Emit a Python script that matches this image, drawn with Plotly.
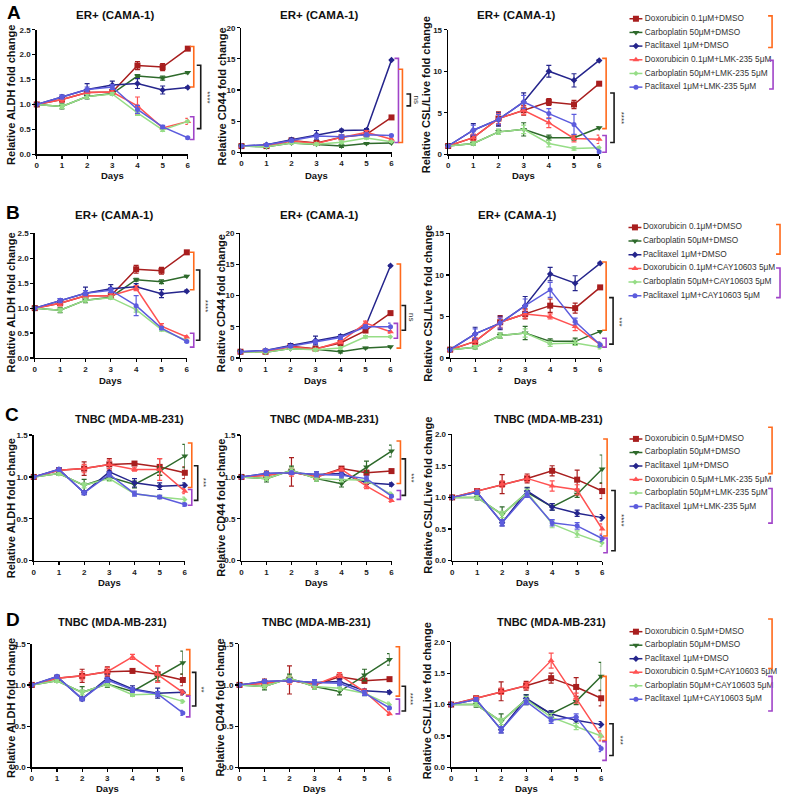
import plotly.graph_objects as go

W, H = 786, 800
days = [0, 1, 2, 3, 4, 5, 6]

# order: Dox+DMSO, Carbo+DMSO, Pacli+DMSO, Dox+inhib, Carbo+inhib, Pacli+inhib
colors = ["#A81E1E", "#2E6A2B", "#25258C", "#FF5252", "#96DD86", "#5C5CDD"]
symbols = ["square", "triangle-down", "diamond", "triangle-up", "diamond", "circle"]
msizes = [6, 6, 5, 6, 4, 5]

# ---------------- Row A : ER+ (CAMA-1), LMK-235 ----------------
A_aldh = [
    [1.0, 1.10, 1.24, 1.25, 1.78, 1.75, 2.12],
    [1.0, 0.96, 1.16, 1.22, 1.57, 1.53, 1.64],
    [1.0, 1.15, 1.30, 1.39, 1.42, 1.29, 1.34],
    [1.0, 1.10, 1.24, 1.25, 0.97, 0.53, 0.66],
    [1.0, 0.96, 1.16, 1.21, 0.83, 0.49, 0.66],
    [1.0, 1.15, 1.30, 1.35, 0.90, 0.55, 0.33],
]
A_aldh_err = [
    [0, 0.05, 0.04, 0.04, 0.08, 0.07, 0.02],
    [0, 0.05, 0.05, 0.03, 0.03, 0.04, 0.02],
    [0, 0.04, 0.12, 0.08, 0.10, 0.08, 0.02],
    [0, 0.05, 0.04, 0.04, 0.18, 0.03, 0.06],
    [0, 0.04, 0.04, 0.03, 0.05, 0.03, 0.02],
    [0, 0.04, 0.05, 0.05, 0.08, 0.03, 0.02],
]
A_cd44 = [
    [1.0, 1.0, 1.9, 1.5, 2.4, 2.9, 5.6],
    [1.0, 0.9, 1.5, 1.3, 1.0, 1.4, 1.5],
    [1.0, 1.2, 2.0, 2.8, 3.5, 3.6, 14.8],
    [1.0, 1.0, 1.8, 1.4, 2.4, 3.2, 2.1],
    [1.0, 0.9, 1.5, 1.3, 1.6, 2.3, 1.7],
    [1.0, 1.2, 1.9, 2.6, 2.5, 2.8, 2.7],
]
A_cd44_err = [
    [0, 0.1, 0.2, 0.2, 0.3, 0.3, 0.1],
    [0, 0.1, 0.1, 0.2, 0.2, 0.1, 0.1],
    [0, 0.2, 0.3, 0.7, 0.2, 0.2, 0.1],
    [0, 0.1, 0.2, 0.2, 0.3, 0.3, 0.2],
    [0, 0.1, 0.1, 0.2, 0.2, 0.2, 0.1],
    [0, 0.2, 0.2, 0.3, 0.3, 0.3, 0.2],
]
A_csl = [
    [1.0, 2.0, 4.3, 5.3, 6.3, 6.0, 8.5],
    [1.0, 1.3, 2.7, 3.0, 2.0, 2.0, 3.2],
    [1.0, 2.9, 4.2, 6.3, 10.0, 8.9, 11.3],
    [1.0, 2.0, 4.3, 5.3, 3.8, 1.9, 1.8],
    [1.0, 1.3, 2.7, 3.0, 1.3, 0.7, 0.8],
    [1.0, 2.9, 4.2, 6.3, 4.9, 3.6, 0.3],
]
A_csl_err = [
    [0, 0.4, 0.8, 0.6, 0.4, 0.5, 0.1],
    [0, 0.2, 0.3, 0.8, 0.3, 0.3, 0.1],
    [0, 0.8, 0.8, 1.1, 0.7, 0.8, 0.1],
    [0, 0.4, 0.6, 0.5, 0.6, 0.4, 0.5],
    [0, 0.2, 0.3, 0.5, 0.4, 0.2, 0.1],
    [0, 0.6, 0.6, 0.8, 0.6, 1.2, 0.3],
]

# ---------------- Row B : ER+ (CAMA-1), CAY10603 ----------------
B_aldh = [
    [1.0, 1.10, 1.25, 1.25, 1.78, 1.75, 2.12],
    [1.0, 0.96, 1.16, 1.22, 1.57, 1.53, 1.64],
    [1.0, 1.15, 1.30, 1.39, 1.43, 1.29, 1.34],
    [1.0, 1.10, 1.25, 1.25, 1.40, 0.64, 0.42],
    [1.0, 0.96, 1.16, 1.21, 0.97, 0.57, 0.35],
    [1.0, 1.15, 1.30, 1.36, 1.05, 0.60, 0.33],
]
B_aldh_err = [
    [0, 0.05, 0.04, 0.04, 0.08, 0.07, 0.02],
    [0, 0.05, 0.05, 0.03, 0.03, 0.04, 0.02],
    [0, 0.04, 0.12, 0.08, 0.06, 0.08, 0.02],
    [0, 0.05, 0.04, 0.04, 0.05, 0.05, 0.03],
    [0, 0.04, 0.04, 0.03, 0.05, 0.03, 0.02],
    [0, 0.04, 0.05, 0.05, 0.20, 0.03, 0.02],
]
B_cd44 = [
    [1.0, 1.0, 1.9, 1.5, 2.4, 4.4, 7.2],
    [1.0, 0.9, 1.5, 1.4, 1.0, 1.6, 1.8],
    [1.0, 1.2, 2.0, 2.8, 3.5, 5.1, 14.8],
    [1.0, 1.0, 1.8, 1.4, 2.6, 5.6, 4.2],
    [1.0, 0.9, 1.5, 1.3, 1.6, 3.4, 3.4],
    [1.0, 1.2, 1.9, 2.6, 3.3, 5.0, 5.0],
]
B_cd44_err = [
    [0, 0.1, 0.2, 0.2, 0.3, 0.3, 0.1],
    [0, 0.1, 0.1, 0.2, 0.2, 0.1, 0.1],
    [0, 0.2, 0.3, 0.7, 0.2, 0.2, 0.1],
    [0, 0.1, 0.2, 0.2, 0.3, 0.3, 0.2],
    [0, 0.1, 0.1, 0.2, 0.2, 0.2, 0.1],
    [0, 0.2, 0.2, 0.3, 0.3, 0.3, 0.6],
]
B_csl = [
    [1.0, 2.0, 4.3, 5.3, 6.3, 6.0, 8.5],
    [1.0, 1.3, 2.7, 3.0, 2.0, 2.0, 3.2],
    [1.0, 2.9, 4.2, 6.3, 10.1, 9.0, 11.4],
    [1.0, 2.0, 4.3, 5.3, 5.0, 3.8, 1.6],
    [1.0, 1.3, 2.7, 3.0, 1.7, 1.8, 1.3],
    [1.0, 2.9, 4.2, 6.3, 8.2, 4.4, 1.6],
]
B_csl_err = [
    [0, 0.4, 0.8, 0.6, 0.8, 0.6, 0.1],
    [0, 0.2, 0.3, 0.8, 0.3, 0.4, 0.1],
    [0, 0.8, 0.8, 1.1, 0.8, 0.9, 0.1],
    [0, 0.4, 0.6, 0.5, 0.3, 0.5, 0.3],
    [0, 0.2, 0.3, 0.5, 0.3, 0.3, 0.2],
    [0, 0.6, 0.6, 0.8, 0.9, 0.4, 0.3],
]

# ---------------- Row C : TNBC (MDA-MB-231), LMK-235 ----------------
C_aldh = [
    [1.0, 1.08, 1.10, 1.15, 1.16, 1.12, 1.05],
    [1.0, 1.04, 0.90, 1.00, 0.91, 1.07, 1.25],
    [1.0, 1.09, 0.81, 1.06, 0.93, 0.89, 0.90],
    [1.0, 1.08, 1.10, 1.15, 1.09, 1.09, 0.83],
    [1.0, 1.04, 0.90, 0.98, 0.80, 0.76, 0.73],
    [1.0, 1.09, 0.81, 1.03, 0.80, 0.76, 0.67],
]
C_aldh_err = [
    [0, 0.02, 0.08, 0.07, 0.02, 0.10, 0.07],
    [0, 0.02, 0.07, 0.04, 0.04, 0.05, 0.14],
    [0, 0.02, 0.02, 0.04, 0.05, 0.04, 0.03],
    [0, 0.02, 0.05, 0.05, 0.02, 0.13, 0.03],
    [0, 0.02, 0.03, 0.03, 0.02, 0.02, 0.03],
    [0, 0.02, 0.02, 0.03, 0.03, 0.02, 0.02],
]
C_cd44 = [
    [1.0, 1.02, 1.06, 1.00, 1.10, 1.05, 1.07],
    [1.0, 0.98, 1.08, 0.98, 0.92, 1.12, 1.31],
    [1.0, 1.04, 1.05, 1.03, 1.04, 0.93, 0.91],
    [1.0, 1.02, 1.06, 1.00, 1.09, 0.89, 0.72],
    [1.0, 0.98, 1.08, 0.98, 0.97, 0.96, 0.79],
    [1.0, 1.04, 1.05, 1.03, 1.02, 0.98, 0.77],
]
C_cd44_err = [
    [0, 0.05, 0.17, 0.03, 0.02, 0.03, 0.02],
    [0, 0.04, 0.05, 0.03, 0.04, 0.07, 0.07],
    [0, 0.02, 0.02, 0.03, 0.03, 0.02, 0.02],
    [0, 0.02, 0.05, 0.03, 0.02, 0.03, 0.02],
    [0, 0.02, 0.03, 0.03, 0.03, 0.03, 0.03],
    [0, 0.02, 0.02, 0.03, 0.03, 0.03, 0.02],
]
C_csl = [
    [1.0, 1.10, 1.21, 1.30, 1.42, 1.28, 1.10],
    [1.0, 1.00, 0.73, 1.08, 0.85, 1.05, 1.45],
    [1.0, 1.08, 0.60, 1.10, 0.85, 0.75, 0.68],
    [1.0, 1.10, 1.21, 1.30, 1.18, 1.12, 0.50],
    [1.0, 1.00, 0.73, 1.08, 0.58, 0.42, 0.28],
    [1.0, 1.08, 0.60, 1.05, 0.60, 0.55, 0.35],
]
C_csl_err = [
    [0, 0.03, 0.15, 0.07, 0.08, 0.15, 0.12],
    [0, 0.04, 0.12, 0.08, 0.05, 0.05, 0.22],
    [0, 0.03, 0.05, 0.05, 0.05, 0.05, 0.05],
    [0, 0.03, 0.05, 0.05, 0.08, 0.08, 0.08],
    [0, 0.03, 0.05, 0.05, 0.06, 0.05, 0.05],
    [0, 0.03, 0.05, 0.05, 0.05, 0.05, 0.05],
]

# ---------------- Row D : TNBC (MDA-MB-231), CAY10603 ----------------
D_aldh = [
    [1.0, 1.08, 1.11, 1.16, 1.17, 1.13, 1.06],
    [1.0, 1.05, 0.91, 1.01, 0.92, 1.10, 1.27],
    [1.0, 1.10, 0.83, 1.08, 0.95, 0.90, 0.91],
    [1.0, 1.08, 1.11, 1.16, 1.34, 1.13, 0.91],
    [1.0, 1.05, 0.91, 1.01, 0.88, 0.89, 0.80],
    [1.0, 1.10, 0.83, 1.06, 0.94, 0.89, 0.66],
]
D_aldh_err = [
    [0, 0.02, 0.08, 0.06, 0.02, 0.10, 0.07],
    [0, 0.02, 0.07, 0.04, 0.04, 0.05, 0.14],
    [0, 0.02, 0.02, 0.04, 0.04, 0.06, 0.03],
    [0, 0.02, 0.05, 0.05, 0.03, 0.10, 0.03],
    [0, 0.02, 0.03, 0.03, 0.02, 0.02, 0.02],
    [0, 0.02, 0.02, 0.03, 0.03, 0.03, 0.03],
]
D_cd44 = [
    [1.0, 1.02, 1.06, 1.00, 1.10, 1.05, 1.07],
    [1.0, 0.98, 1.08, 0.98, 0.92, 1.12, 1.31],
    [1.0, 1.04, 1.05, 1.03, 1.04, 0.93, 0.91],
    [1.0, 1.02, 1.06, 1.00, 1.12, 0.92, 0.65],
    [1.0, 0.98, 1.08, 0.98, 0.96, 0.90, 0.76],
    [1.0, 1.04, 1.05, 1.03, 1.02, 0.90, 0.72],
]
D_cd44_err = [
    [0, 0.05, 0.17, 0.03, 0.02, 0.03, 0.02],
    [0, 0.04, 0.05, 0.03, 0.04, 0.07, 0.07],
    [0, 0.02, 0.02, 0.03, 0.03, 0.02, 0.02],
    [0, 0.02, 0.05, 0.03, 0.03, 0.03, 0.02],
    [0, 0.02, 0.03, 0.03, 0.03, 0.03, 0.03],
    [0, 0.02, 0.02, 0.03, 0.03, 0.03, 0.02],
]
D_csl = [
    [1.0, 1.10, 1.21, 1.30, 1.42, 1.28, 1.10],
    [1.0, 1.00, 0.73, 1.08, 0.85, 1.05, 1.45],
    [1.0, 1.08, 0.60, 1.10, 0.85, 0.75, 0.68],
    [1.0, 1.10, 1.21, 1.30, 1.70, 1.10, 0.50],
    [1.0, 1.00, 0.73, 1.08, 0.80, 0.65, 0.50],
    [1.0, 1.08, 0.60, 1.05, 0.75, 0.80, 0.30],
]
D_csl_err = [
    [0, 0.03, 0.15, 0.07, 0.08, 0.15, 0.12],
    [0, 0.04, 0.12, 0.08, 0.05, 0.05, 0.22],
    [0, 0.03, 0.05, 0.05, 0.05, 0.05, 0.05],
    [0, 0.03, 0.05, 0.05, 0.12, 0.08, 0.08],
    [0, 0.03, 0.05, 0.05, 0.06, 0.05, 0.05],
    [0, 0.03, 0.05, 0.05, 0.05, 0.05, 0.05],
]

legend_A = ["Doxorubicin 0.1μM+DMSO", "Carboplatin 50μM+DMSO", "Paclitaxel 1μM+DMSO",
            "Doxorubicin 0.1μM+LMK-235 5μM", "Carboplatin 50μM+LMK-235 5μM", "Paclitaxel 1μM+LMK-235 5μM"]
legend_B = ["Doxorubicin 0.1μM+DMSO", "Carboplatin 50μM+DMSO", "Paclitaxel 1μM+DMSO",
            "Doxorubicin 0.1μM+CAY10603 5μM", "Carboplatin 50μM+CAY10603 5μM", "Paclitaxel 1μM+CAY10603 5μM"]
legend_C = ["Doxorubicin 0.5μM+DMSO", "Carboplatin 50μM+DMSO", "Paclitaxel 1μM+DMSO",
            "Doxorubicin 0.5μM+LMK-235 5μM", "Carboplatin 50μM+LMK-235 5μM", "Paclitaxel 1μM+LMK-235 5μM"]
legend_D = ["Doxorubicin 0.5μM+DMSO", "Carboplatin 50μM+DMSO", "Paclitaxel 1μM+DMSO",
            "Doxorubicin 0.5μM+CAY10603 5μM", "Carboplatin 50μM+CAY10603 5μM", "Paclitaxel 1μM+CAY10603 5μM"]

ER = "ER+ (CAMA-1)"
TN = "TNBC (MDA-MB-231)"
Y_ALDH = "Relative ALDH fold change"
Y_CD44 = "Relative CD44 fold change"
Y_CSL = "Relative CSL/Live fold change"

FONT = "Liberation Sans"
ORANGE = "#FF6A1C"
PURPLE = "#A044C8"
BLACK = "#1A1A1A"

# panel geometry in pixels: x of day0, x of day6, y of top, y of 0
panels = [
    dict(v=A_aldh, e=A_aldh_err, box=(35, 187, 26, 152), ymax=2.5, dt=0.5, fmt=".1f", t=ER, tx=114, ty=11, yl=Y_ALDH, ylx=9, yly=92, dy=173),
    dict(v=A_cd44, e=A_cd44_err, box=(241, 392, 24, 150), ymax=20, dt=5, fmt="d", t=ER, tx=319, ty=11, yl=Y_CD44, ylx=221, yly=94, dy=173),
    dict(v=A_csl, e=A_csl_err, box=(449, 601, 26, 152), ymax=15, dt=5, fmt="d", t=ER, tx=517, ty=11, yl=Y_CSL, ylx=427, yly=92, dy=173),
    dict(v=B_aldh, e=B_aldh_err, box=(33, 186, 232, 358), ymax=2.5, dt=0.5, fmt=".1f", t=ER, tx=113, ty=213, yl=Y_ALDH, ylx=9, yly=302, dy=381),
    dict(v=B_cd44, e=B_cd44_err, box=(240, 391, 232, 358), ymax=20, dt=5, fmt="d", t=ER, tx=319, ty=213, yl=Y_CD44, ylx=220, yly=303, dy=381),
    dict(v=B_csl, e=B_csl_err, box=(451, 602, 232, 358), ymax=15, dt=5, fmt="d", t=ER, tx=518, ty=213, yl=Y_CSL, ylx=428, yly=303, dy=381),
    dict(v=C_aldh, e=C_aldh_err, box=(32, 184, 436, 563), ymax=1.5, dt=0.5, fmt=".1f", t=TN, tx=128, ty=420, yl=Y_ALDH, ylx=9, yly=510, dy=585),
    dict(v=C_cd44, e=C_cd44_err, box=(241, 392, 436, 563), ymax=1.5, dt=0.5, fmt=".1f", t=TN, tx=325, ty=420, yl=Y_CD44, ylx=221, yly=510, dy=585),
    dict(v=C_csl, e=C_csl_err, box=(453, 604, 435, 563), ymax=2.0, dt=0.5, fmt=".1f", t=TN, tx=550, ty=420, yl=Y_CSL, ylx=429, yly=497, dy=585),
    dict(v=D_aldh, e=D_aldh_err, box=(30, 182, 647, 772), ymax=1.5, dt=0.5, fmt=".1f", t=TN, tx=111, ty=625, yl=Y_ALDH, ylx=9, yly=712, dy=793),
    dict(v=D_cd44, e=D_cd44_err, box=(239, 390, 647, 772), ymax=1.5, dt=0.5, fmt=".1f", t=TN, tx=317, ty=625, yl=Y_CD44, ylx=219, yly=712, dy=793),
    dict(v=D_csl, e=D_csl_err, box=(452, 603, 645, 772), ymax=2.0, dt=0.5, fmt=".1f", t=TN, tx=553, ty=625, yl=Y_CSL, ylx=428, yly=705, dy=793),
]

def fx(px):
    return px / W

def fy(py):
    return 1 - py / H

fig = go.Figure()
annotations = []
shapes = []
layout = {}

for i, p in enumerate(panels):
    k = i + 1
    xa = "x" if k == 1 else f"x{k}"
    ya = "y" if k == 1 else f"y{k}"
    x0, x6, yt, yb = p["box"]
    for s in range(6):
        fig.add_trace(go.Scatter(
            x=days, y=p["v"][s], xaxis=xa, yaxis=ya, mode="lines+markers",
            line=dict(color=colors[s], width=1.5),
            marker=dict(symbol=symbols[s], size=msizes[s], color=colors[s]),
            error_y=dict(type="data", array=p["e"][s], visible=True, color=colors[s], thickness=1.2, width=2.5),
            cliponaxis=False, showlegend=False, hoverinfo="skip"))
    axcommon = dict(showline=True, linecolor="black", linewidth=1.5, ticks="outside", ticklen=3,
                    tickwidth=1.2, tickcolor="black", showgrid=False, zeroline=False,
                    tickfont=dict(family=FONT, size=8, color="#222", weight="bold"))
    layout["xaxis" if k == 1 else f"xaxis{k}"] = dict(
        domain=[fx(x0), fx(x6)], range=[0, 6], tickmode="linear", tick0=0, dtick=1,
        anchor=ya, **axcommon)
    layout["yaxis" if k == 1 else f"yaxis{k}"] = dict(
        domain=[fy(yb), fy(yt)], range=[0, p["ymax"]], tickmode="linear", tick0=0, dtick=p["dt"],
        tickformat=p["fmt"], anchor=xa, **axcommon)
    tsize = 11.5 if p["t"] == ER else 11
    annotations.append(dict(text=f"<b>{p['t']}</b>", x=fx(p["tx"]), y=fy(p["ty"]), xref="paper", yref="paper",
                            showarrow=False, font=dict(family=FONT, size=tsize, color="#111"), xanchor="center", yanchor="middle"))
    annotations.append(dict(text=f"<b>{p['yl']}</b>", x=fx(p["ylx"]), y=fy(p["yly"]), xref="paper", yref="paper",
                            showarrow=False, textangle=-90, font=dict(family=FONT, size=11, color="#111"),
                            xanchor="center", yanchor="middle"))
    annotations.append(dict(text="<b>Days</b>", x=fx((x0 + x6) / 2), y=fy(p["dy"]), xref="paper", yref="paper",
                            showarrow=False, font=dict(family=FONT, size=9.5, color="#111"), xanchor="center", yanchor="middle"))

# panel letters
for letter, (lx, ly) in zip("ABCD", [(12, 9), (11, 211), (10, 415), (11, 623)]):
    annotations.append(dict(text=f"<b>{letter}</b>", x=fx(lx), y=fy(ly), xref="paper", yref="paper", showarrow=False,
                            font=dict(family=FONT, size=19, color="black"), xanchor="center", yanchor="middle"))

# manual legends drawn as categorical scatter axes
legends = [
    (legend_A, 8, 91, 638, 650),
    (legend_B, 219, 302, 637, 648),
    (legend_C, 433, 515, 638, 650),
    (legend_D, 628, 710, 638, 650),
]
L0 = 610
for j, (names, ltop, lbot, mx, tx) in enumerate(legends):
    k = 13 + j
    xa, ya = f"x{k}", f"y{k}"
    for s in range(6):
        fig.add_trace(go.Scatter(
            x=[mx - L0], y=[names[s]], xaxis=xa, yaxis=ya, mode="markers",
            marker=dict(symbol=symbols[s], size=msizes[s], color=colors[s]),
            error_x=dict(type="constant", value=6.5, color=colors[s], thickness=1.5, width=0),
            cliponaxis=False, showlegend=False, hoverinfo="skip"))
    fig.add_trace(go.Scatter(
        x=[tx - L0 - 3] * 6, y=names, xaxis=xa, yaxis=ya, mode="text", text=names,
        textposition="middle right", textfont=dict(family=FONT, size=8.3, color="#333"),
        cliponaxis=False, showlegend=False, hoverinfo="skip"))
    layout[f"xaxis{k}"] = dict(domain=[fx(L0), 1.0], range=[0, W - L0], visible=False, anchor=ya)
    layout[f"yaxis{k}"] = dict(domain=[fy(lbot), fy(ltop)], type="category", categoryorder="array",
                               categoryarray=names[::-1], range=[-0.5, 5.5], visible=False, anchor=xa)

# significance brackets: (x, y0, y1, color)
brackets = [
    (193, 43, 84, ORANGE), (193, 114, 137, PURPLE), (200, 62, 126, BLACK),
    (399, 55, 140, PURPLE), (403, 66, 140, ORANGE), (411, 91, 103, BLACK),
    (608, 55, 126, ORANGE), (608, 133, 150, PURPLE), (616, 90, 140, BLACK),
    (775, 12, 44, ORANGE), (776, 57, 86, PURPLE),
    (193, 251, 289, ORANGE), (193, 333, 347, PURPLE), (199, 269, 340, BLACK),
    (401, 263, 348, ORANGE), (398, 323, 338, PURPLE), (406, 305, 330, BLACK),
    (608, 261, 330, ORANGE), (608, 338, 347, PURPLE), (615, 297, 344, BLACK),
    (783, 223, 253, ORANGE), (783, 267, 297, PURPLE),
    (191, 444, 489, ORANGE), (191, 491, 507, PURPLE), (197, 467, 502, BLACK),
    (401, 442, 485, ORANGE), (401, 492, 501, PURPLE), (406, 460, 497, BLACK),
    (609, 440, 538, ORANGE), (609, 540, 555, PURPLE), (617, 492, 553, BLACK),
    (775, 428, 475, ORANGE), (775, 490, 525, PURPLE),
    (189, 653, 699, ORANGE), (189, 700, 721, PURPLE), (195, 676, 710, BLACK),
    (400, 650, 700, ORANGE), (400, 703, 718, PURPLE), (406, 690, 715, BLACK),
    (608, 680, 745, ORANGE), (608, 746, 765, PURPLE), (615, 728, 760, BLACK),
    (775, 622, 672, ORANGE), (775, 680, 715, PURPLE),
]
for (bx, b0, b1, col) in brackets:
    path = f"M {fx(bx - 4)},{fy(b0)} L {fx(bx)},{fy(b0)} L {fx(bx)},{fy(b1)} L {fx(bx - 4)},{fy(b1)}"
    shapes.append(dict(type="path", path=path, xref="paper", yref="paper", layer="above",
                       line=dict(color=col, width=1.6)))

stars = [
    ("****", 206, 94), ("ns", 417, 97), ("****", 623, 115),
    ("****", 205, 305), ("ns", 412, 317), ("***", 622, 321),
    ("***", 203, 484), ("***", 412, 479), ("****", 624, 522),
    ("**", 201, 693), ("****", 412, 703), ("***", 622, 744),
]
for (txt, sx, sy) in stars:
    annotations.append(dict(text=txt, x=fx(sx), y=fy(sy), xref="paper", yref="paper", showarrow=False, textangle=90,
                            font=dict(family=FONT, size=8, color="#333"), xanchor="center", yanchor="middle"))

fig.update_layout(width=W, height=H, margin=dict(l=0, r=0, t=0, b=0), paper_bgcolor="white",
                  plot_bgcolor="rgba(0,0,0,0)", showlegend=False, annotations=annotations, shapes=shapes, **layout)
fig.write_html("out.html", config={"displayModeBar": False, "staticPlot": True},
               post_script="document.body.style.margin='0';document.body.style.overflow='hidden';")
